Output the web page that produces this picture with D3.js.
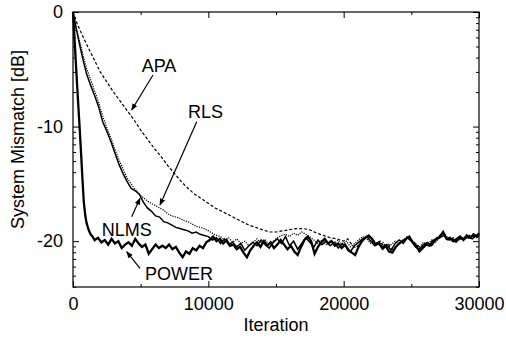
<!DOCTYPE html>
<html>
<head>
<meta charset="utf-8">
<script src="https://cdn.jsdelivr.net/npm/d3@7"></script>
<style>
  body { margin: 0; background: #fff; }
  svg { display: block; font-family: "Liberation Sans", Arial, Helvetica, sans-serif; }
  .tick text { font-size: 18px; fill: #000; }
</style>
</head>
<body>
<div id="chart"></div>
<script>
// tick values
const xMajorTicks = [0, 10000, 20000, 30000];
const xMinorTicks = [5000, 15000, 25000];
const yMajorTicks = [0, -10, -20];

// [iteration, dB]
const power = [
  [0, 0], [100, -2.1], [200, -4.2], [300, -6.3], [400, -8.3], [500, -10.3], [600, -12.4],
  [700, -14.6], [800, -16.6], [900, -17.7], [1000, -18.4], [1150, -19.0], [1300, -19.4],
  [1450, -19.6], [1600, -19.9], [1850, -19.7], [2100, -20.1], [2350, -19.9], [2600, -20.3],
  [2850, -19.8], [3100, -20.2], [3350, -20.0], [3600, -20.6], [3850, -20.3], [4100, -20.1],
  [4350, -20.4], [4600, -19.8], [4850, -20.2], [5100, -20.5], [5350, -20.3], [5600, -21.1],
  [5850, -20.7], [6100, -20.3], [6350, -20.6], [6600, -20.4], [6850, -20.6], [7100, -20.3],
  [7350, -20.7], [7600, -20.5], [7850, -21.0], [8100, -21.4], [8350, -20.9], [8600, -21.1],
  [8850, -20.6], [9100, -20.8], [9350, -20.4], [9600, -20.6], [9850, -20.1], [10100, -19.9],
  [10350, -19.6], [10600, -20.0], [10850, -19.8], [11100, -20.2], [11350, -19.9], [11600, -20.4],
  [11850, -20.3], [12100, -20.7], [12350, -20.5], [12600, -21.0], [12850, -21.4], [13100, -20.8],
  [13350, -20.4], [13600, -20.1], [13850, -20.5], [14100, -20.0], [14350, -20.4], [14600, -20.1],
  [14850, -20.6], [15100, -20.3], [15350, -19.9], [15600, -20.3], [15850, -20.7], [16100, -20.4],
  [16350, -20.9], [16600, -21.2], [16850, -20.5], [17100, -19.9], [17350, -19.6], [17600, -20.0],
  [17850, -21.1], [18100, -20.5], [18350, -20.1], [18600, -19.8], [18850, -20.2], [19100, -20.0],
  [19350, -20.4], [19600, -20.2], [19850, -20.6], [20100, -20.3], [20350, -20.8], [20600, -21.0],
  [20850, -21.2], [21100, -20.5], [21350, -20.0], [21600, -19.7], [21850, -19.5], [22100, -19.8],
  [22350, -20.3], [22600, -20.1], [22850, -20.6], [23100, -20.4], [23350, -20.9], [23600, -21.0],
  [23850, -20.5], [24100, -20.2], [24350, -20.0], [24600, -19.8], [24850, -19.6], [25100, -20.1],
  [25350, -20.4], [25600, -20.9], [25850, -20.6], [26100, -20.3], [26350, -20.4], [26600, -20.0],
  [26850, -19.8], [27100, -19.6], [27350, -19.2], [27600, -19.8], [27850, -19.7], [28100, -20.0],
  [28350, -19.8], [28600, -19.6], [28850, -19.9], [29100, -19.5], [29350, -19.7], [29600, -19.4],
  [29850, -19.6], [30000, -19.3]
];

const nlms = [
  [0, 0], [150, -0.9], [300, -1.8], [500, -2.9], [750, -4.2], [1000, -5.4], [1300, -6.4],
  [1600, -7.3], [1900, -8.3], [2200, -9.6], [2500, -10.4], [2800, -11.3], [3100, -12.3],
  [3400, -13.3], [3700, -14.1], [4000, -14.8], [4300, -15.4], [4600, -15.6], [4900, -15.9],
  [5200, -16.6], [5500, -17.1], [5800, -17.4], [6100, -17.8], [6400, -17.9], [6700, -18.3],
  [7000, -18.4], [7300, -18.6], [7600, -18.8], [7900, -18.9], [8200, -19.0], [8500, -19.1],
  [8800, -19.3], [9100, -19.2], [9400, -19.4], [9700, -19.5], [10000, -19.6], [10300, -19.9],
  [10600, -19.7], [10900, -20.2], [11200, -19.8], [11500, -20.3], [11800, -20.1], [12100, -20.5],
  [12400, -20.2], [12700, -20.8], [13000, -20.4], [13300, -20.1], [13600, -20.4], [13900, -19.9],
  [14200, -20.3], [14500, -20.6], [14800, -20.1], [15100, -19.8], [15400, -20.2], [15700, -19.6],
  [16000, -20.4], [16300, -20.0], [16600, -20.7], [16900, -20.2], [17200, -19.7], [17500, -20.1],
  [17800, -20.5], [18100, -19.9], [18400, -20.3], [18700, -20.0], [19000, -20.4], [19300, -20.1],
  [19600, -20.6], [19900, -20.2], [20200, -20.5], [20500, -20.9], [20800, -20.4], [21100, -20.1],
  [21400, -19.8], [21700, -19.6], [22000, -20.0], [22300, -20.4], [22600, -20.2], [22900, -20.7],
  [23200, -20.3], [23500, -20.8], [23800, -20.2], [24100, -19.9], [24400, -20.2], [24700, -19.7],
  [25000, -20.0], [25300, -20.5], [25600, -20.7], [25900, -20.3], [26200, -20.1], [26500, -20.4],
  [26800, -19.9], [27100, -19.7], [27400, -19.5], [27700, -19.9], [28000, -19.8], [28300, -20.1],
  [28600, -19.7], [28900, -19.8], [29200, -19.6], [29500, -19.8], [29800, -19.5], [30000, -19.6]
];

const rls = [
  [0, 0], [150, -1.0], [300, -1.7], [500, -2.6], [750, -3.8], [1000, -4.9], [1300, -5.9],
  [1600, -6.9], [1900, -7.9], [2200, -9.1], [2500, -10.1], [2800, -11.0], [3100, -12.0],
  [3400, -12.9], [3700, -13.7], [4000, -14.5], [4300, -15.0], [4600, -15.5], [4900, -15.9],
  [5200, -16.2], [5500, -16.5], [5800, -16.7], [6100, -16.9], [6400, -17.1], [6700, -17.3],
  [7000, -17.6], [7300, -17.8], [7600, -17.9], [7900, -18.0], [8200, -18.2], [8500, -18.3],
  [8800, -18.5], [9100, -18.7], [9400, -18.8], [9700, -18.9], [10000, -19.1], [10300, -19.3],
  [10600, -19.5], [10900, -19.6], [11200, -19.9], [11500, -19.7], [11800, -20.1], [12100, -19.8],
  [12400, -20.2], [12700, -20.0], [13000, -20.4], [13300, -20.1], [13600, -19.8], [13900, -20.2],
  [14200, -19.9], [14500, -20.3], [14800, -20.0], [15100, -19.7], [15400, -19.5], [15700, -19.4],
  [16000, -19.6], [16300, -19.3], [16600, -19.5], [16900, -19.2], [17200, -19.4], [17500, -19.6],
  [17800, -19.9], [18100, -20.2], [18400, -19.9], [18700, -20.3], [19000, -20.0], [19300, -20.2],
  [19600, -19.9], [19900, -20.3], [20200, -20.0], [20500, -20.5], [20800, -20.2], [21100, -19.9],
  [21400, -19.6], [21700, -19.8], [22000, -20.2], [22300, -20.0], [22600, -20.4], [22900, -20.1],
  [23200, -20.6], [23500, -20.3], [23800, -20.0], [24100, -20.3], [24400, -19.9], [24700, -19.6],
  [25000, -19.9], [25300, -20.2], [25600, -20.5], [25900, -20.1], [26200, -20.3], [26500, -19.9],
  [26800, -20.1], [27100, -19.6], [27400, -19.3], [27700, -19.7], [28000, -20.0], [28300, -19.8],
  [28600, -19.9], [28900, -19.6], [29200, -19.8], [29500, -19.5], [29800, -19.7], [30000, -19.4]
];

const apa = [
  [0, 0], [300, -1.0], [600, -1.8], [1000, -2.8], [1500, -4.0], [2000, -5.2], [2500, -6.1],
  [3000, -7.0], [3500, -7.8], [4000, -8.6], [4500, -9.4], [5000, -10.3], [5500, -11.1],
  [6000, -11.9], [6500, -12.6], [7000, -13.4], [7500, -14.1], [8000, -14.8], [8500, -15.4],
  [9000, -15.9], [9500, -16.3], [10000, -16.7], [10500, -17.1], [11000, -17.4], [11500, -17.7],
  [12000, -18.0], [12500, -18.3], [13000, -18.6], [13500, -18.8], [14000, -19.0], [14500, -19.2],
  [15000, -19.2], [15500, -19.1], [16000, -19.0], [16500, -18.9], [17000, -18.9], [17500, -19.0],
  [18000, -19.3], [18500, -19.5], [19000, -19.7], [19500, -19.8], [20000, -20.0], [20300, -19.8],
  [20600, -20.3], [20900, -20.6], [21200, -20.2], [21500, -19.8], [21800, -19.6], [22100, -19.9],
  [22400, -20.3], [22700, -20.0], [23000, -20.5], [23300, -20.2], [23600, -20.8], [23900, -20.4],
  [24200, -20.1], [24500, -19.8], [24800, -19.7], [25100, -20.0], [25400, -20.3], [25700, -20.6],
  [26000, -20.2], [26300, -20.4], [26600, -19.9], [26900, -19.7], [27200, -19.4], [27500, -19.6],
  [27800, -19.9], [28100, -19.7], [28400, -20.0], [28700, -19.7], [29000, -19.8], [29300, -19.5],
  [29600, -19.6], [29900, -19.4], [30000, -19.5]
];

// label text, label anchor, arrow start, arrow tip (data units)
const labelNames = ["APA", "RLS", "NLMS", "POWER"];
const labelPos = [[5076, -5.24], [8498, -9.21], [2121, -19.59], [5320, -23.39]];
const arrowFrom = [[5911, -5.5], [9141, -9.57], [4337, -17.87], [4951, -22.37]];
const arrowTo = [[4337, -8.55], [6429, -16.84], [4951, -16.26], [3968, -20.92]];

const width = 506, height = 345;
const margin = {left: 73, right: 479, top: 12, bottom: 287};

const svg = d3.select("#chart").append("svg")
  .attr("width", width)
  .attr("height", height);

const x = d3.scaleLinear().domain([0, 30000]).range([margin.left, margin.right]);
const y = d3.scaleLinear().domain([-24, 0]).range([margin.bottom, margin.top]);

// log-style minor ticks on the dB axis (gnuplot look)
const yMinorTicks = [];
[0, -10, -20, -30].forEach(m => {
  for (let k = 2; k <= 9; k++) {
    const v = m + 10 * Math.log10(k);
    if (v > -24 && v < 0) yMinorTicks.push(v);
  }
});

const fmt = d => String(d);

// bottom / top
svg.append("g").attr("transform", `translate(0,${margin.bottom})`)
  .call(d3.axisBottom(x).tickValues(xMajorTicks).tickSize(-6).tickPadding(10).tickFormat(fmt));
svg.append("g").attr("transform", `translate(0,${margin.bottom})`)
  .call(d3.axisBottom(x).tickValues(xMinorTicks).tickSize(-3).tickFormat(""));
svg.append("g").attr("transform", `translate(0,${margin.top})`)
  .call(d3.axisTop(x).tickValues(xMajorTicks).tickSize(-6).tickFormat(""));
svg.append("g").attr("transform", `translate(0,${margin.top})`)
  .call(d3.axisTop(x).tickValues(xMinorTicks).tickSize(-3).tickFormat(""));

// left / right
svg.append("g").attr("transform", `translate(${margin.left},0)`)
  .call(d3.axisLeft(y).tickValues(yMajorTicks).tickSize(-6).tickPadding(10).tickFormat(fmt));
svg.append("g").attr("transform", `translate(${margin.left},0)`)
  .call(d3.axisLeft(y).tickValues(yMinorTicks).tickSize(-3).tickFormat(""));
svg.append("g").attr("transform", `translate(${margin.right},0)`)
  .call(d3.axisRight(y).tickValues(yMajorTicks).tickSize(-6).tickFormat(""));
svg.append("g").attr("transform", `translate(${margin.right},0)`)
  .call(d3.axisRight(y).tickValues(yMinorTicks).tickSize(-3).tickFormat(""));

svg.selectAll(".domain").remove();
svg.selectAll(".tick line").attr("stroke", "#000");

// frame
svg.append("rect")
  .attr("x", margin.left).attr("y", margin.top)
  .attr("width", margin.right - margin.left).attr("height", margin.bottom - margin.top)
  .attr("fill", "none").attr("stroke", "#000").attr("stroke-width", 1.2);

const line = d3.line().x(d => x(d[0])).y(d => y(d[1]));

const plot = svg.append("g");
plot.append("path").datum(apa).attr("d", line)
  .attr("fill", "none").attr("stroke", "#000").attr("stroke-width", 1.2)
  .attr("stroke-dasharray", "3,2");
plot.append("path").datum(rls).attr("d", line)
  .attr("fill", "none").attr("stroke", "#000").attr("stroke-width", 1.2)
  .attr("stroke-dasharray", "1.2,1.2");
plot.append("path").datum(nlms).attr("d", line)
  .attr("fill", "none").attr("stroke", "#000").attr("stroke-width", 1.5);
plot.append("path").datum(power).attr("d", line)
  .attr("fill", "none").attr("stroke", "#000").attr("stroke-width", 2.3);

// arrows
svg.append("defs").append("marker")
  .attr("id", "head")
  .attr("viewBox", "0 0 10 10")
  .attr("refX", 9).attr("refY", 5)
  .attr("markerWidth", 7).attr("markerHeight", 7)
  .attr("markerUnits", "userSpaceOnUse")
  .attr("orient", "auto")
  .append("path").attr("d", "M0,1L10,5L0,9Z").attr("fill", "#000");

labelNames.forEach((name, i) => {
  svg.append("line")
    .attr("x1", x(arrowFrom[i][0])).attr("y1", y(arrowFrom[i][1]))
    .attr("x2", x(arrowTo[i][0])).attr("y2", y(arrowTo[i][1]))
    .attr("stroke", "#000").attr("stroke-width", 1.2)
    .attr("marker-end", "url(#head)");
  svg.append("text")
    .attr("x", x(labelPos[i][0])).attr("y", y(labelPos[i][1]))
    .attr("font-size", 18)
    .text(name);
});

// axis titles
svg.append("text")
  .attr("x", (margin.left + margin.right) / 2).attr("y", 331)
  .attr("text-anchor", "middle").attr("font-size", 18)
  .text("Iteration");
svg.append("text")
  .attr("transform", `translate(17.5,${(margin.top + margin.bottom) / 2 - 10}) rotate(-90)`)
  .attr("text-anchor", "middle").attr("dy", "0.35em").attr("font-size", 18)
  .text("System Mismatch [dB]");
</script>
</body>
</html>
